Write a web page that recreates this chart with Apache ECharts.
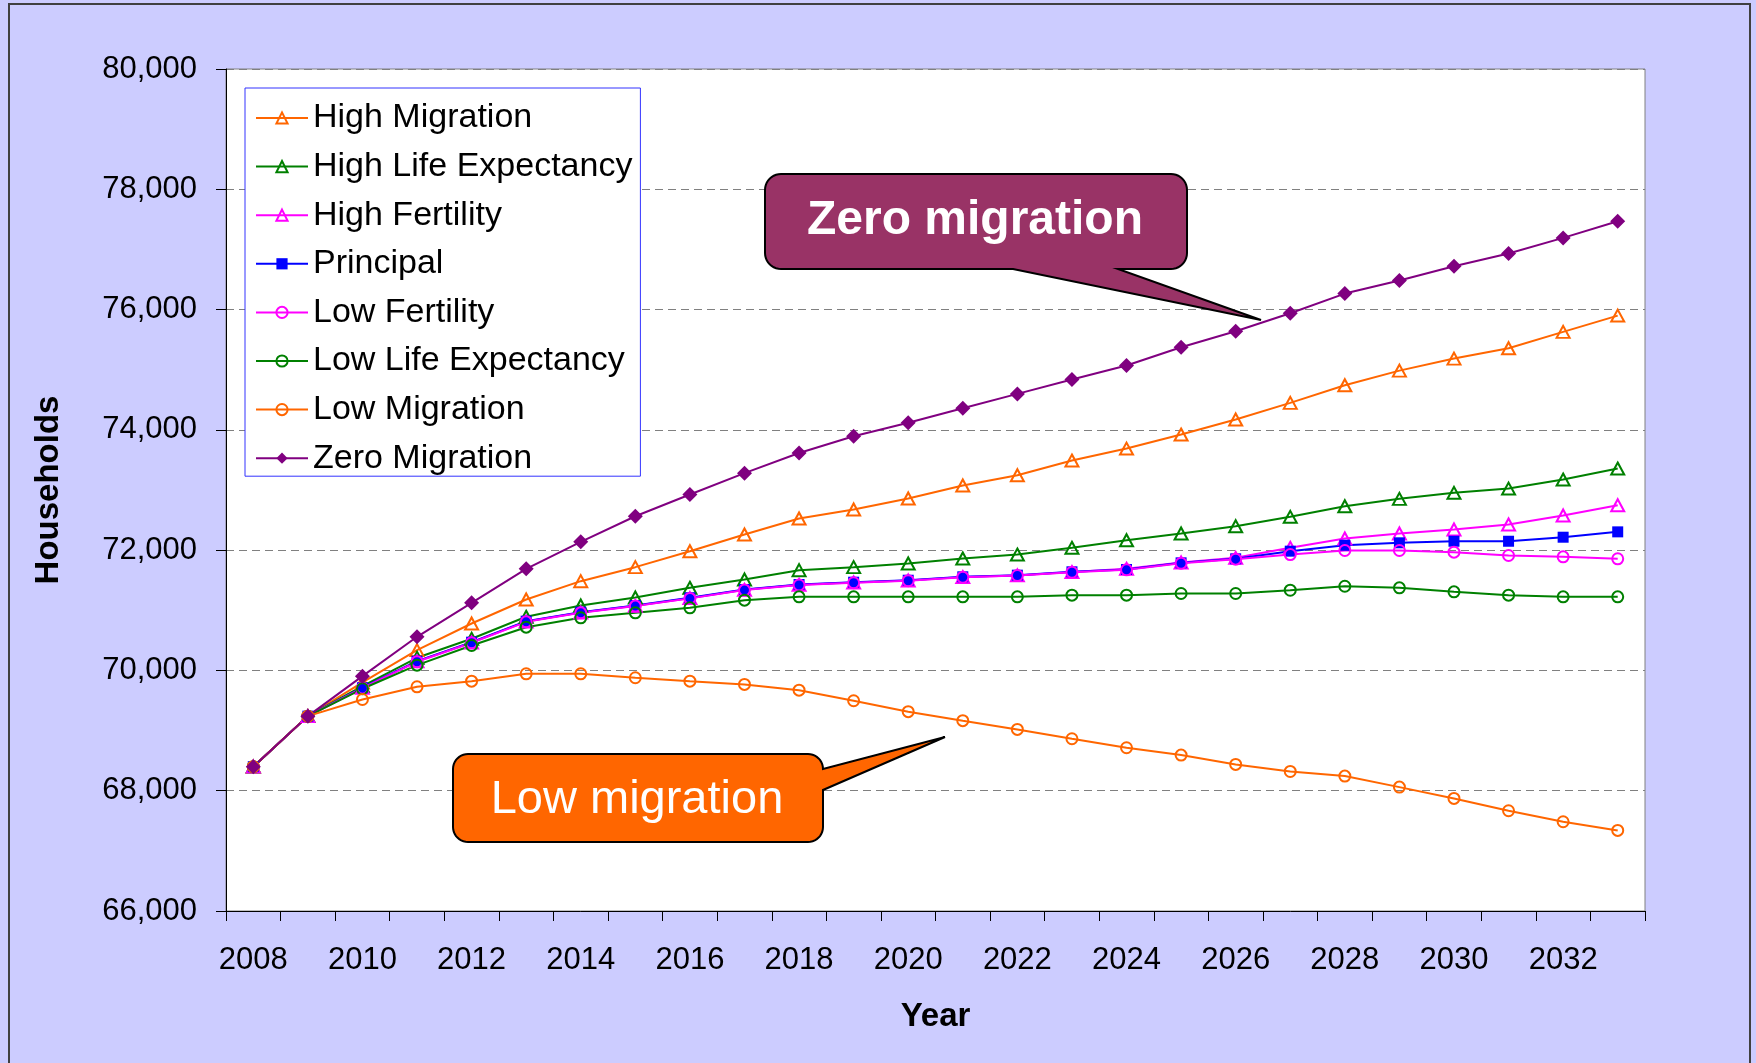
<!DOCTYPE html>
<html>
<head>
<meta charset="utf-8">
<script src="https://cdn.jsdelivr.net/npm/echarts@6/dist/echarts.min.js"></script>
<style>
html,body{margin:0;padding:0;background:#CCCCFF;}
#chart{width:1756px;height:1063px;}
</style>
</head>
<body>
<div id="chart"></div>
<script>
var years = ['2008','2009','2010','2011','2012','2013','2014','2015','2016','2017','2018','2019','2020',
  '2021','2022','2023','2024','2025','2026','2027','2028','2029','2030','2031','2032','2033'];

var highMigration = [68400, 69240, 69800, 70337, 70780, 71180, 71484, 71717, 71982, 72260, 72526, 72676, 72859,
  73075, 73246, 73490, 73689, 73922, 74172, 74449, 74742, 74985, 75185, 75357, 75629, 75900];
var highLifeExpectancy = [68400, 69240, 69740, 70210, 70526, 70892, 71080, 71213, 71374, 71512, 71667, 71717, 71778,
  71861, 71927, 72039, 72165, 72277, 72398, 72554, 72730, 72853, 72953, 73024, 73174, 73357];
var highFertility = [68400, 69240, 69710, 70150, 70465, 70812, 70962, 71074, 71202, 71340, 71424, 71462, 71496,
  71553, 71580, 71636, 71690, 71795, 71872, 72039, 72194, 72277, 72343, 72426, 72576, 72747];
var principal = [68400, 69240, 69712, 70154, 70470, 70819, 70969, 71080, 71208, 71346, 71429, 71467, 71500,
  71557, 71584, 71640, 71678, 71789, 71856, 71983, 72082, 72122, 72148, 72148, 72215, 72304];
var lowFertility = [68400, 69240, 69705, 70145, 70460, 70808, 70958, 71070, 71198, 71336, 71420, 71458, 71492,
  71550, 71578, 71632, 71672, 71782, 71850, 71927, 71994, 71994, 71966, 71911, 71889, 71856];
var lowLifeExpectancy = [68400, 69240, 69695, 70088, 70415, 70719, 70875, 70958, 71041, 71168, 71224, 71224, 71224,
  71224, 71224, 71251, 71251, 71279, 71279, 71334, 71400, 71373, 71307, 71251, 71224, 71224];
var lowMigration = [68400, 69240, 69517, 69728, 69822, 69944, 69944, 69878, 69822, 69767, 69672, 69496, 69314,
  69165, 69019, 68864, 68714, 68592, 68437, 68320, 68243, 68060, 67872, 67667, 67484, 67340];
var zeroMigration = [68400, 69240, 69905, 70559, 71124, 71690, 72138, 72564, 72926, 73280, 73615, 73894, 74117,
  74360, 74598, 74836, 75069, 75374, 75640, 75938, 76266, 76482, 76720, 76931, 77192, 77468];

var yTicks = [66000, 68000, 70000, 72000, 74000, 76000, 78000, 80000];

var FONT = "'Liberation Sans', Arial, Helvetica, sans-serif";

function mkSeries(name, data, color, symbol, size, hollow) {
  return {
    name: name,
    type: 'line',
    data: data,
    symbol: symbol,
    symbolSize: size,
    showSymbol: true,
    showAllSymbol: true,
    lineStyle: { color: color, width: 2 },
    itemStyle: hollow
      ? { color: 'rgba(255,255,255,0)', borderColor: color, borderWidth: 2 }
      : { color: color, borderColor: color, borderWidth: 0 },
    emphasis: { disabled: true }
  };
}

function calloutPoints(x0, y0, x1, y1, r, wedge) {
  var pts = [];
  function arc(cx, cy, a0, a1) {
    var n = 10;
    for (var i = 0; i <= n; i++) {
      var a = a0 + (a1 - a0) * i / n;
      pts.push([cx + r * Math.cos(a), cy + r * Math.sin(a)]);
    }
  }
  arc(x0 + r, y0 + r, Math.PI, 1.5 * Math.PI);
  arc(x1 - r, y0 + r, 1.5 * Math.PI, 2 * Math.PI);
  if (wedge.side === 'right') {
    pts.push([x1, wedge.a]); pts.push(wedge.tip); pts.push([x1, wedge.b]);
  }
  arc(x1 - r, y1 - r, 0, 0.5 * Math.PI);
  if (wedge.side === 'bottom') {
    pts.push([wedge.a, y1]); pts.push(wedge.tip); pts.push([wedge.b, y1]);
  }
  arc(x0 + r, y1 - r, 0.5 * Math.PI, Math.PI);
  return pts;
}

var chart = echarts.init(document.getElementById('chart'), null, { renderer: 'canvas' });

var option = {
  animation: false,
  backgroundColor: '#CCCCFF',
  textStyle: { fontFamily: FONT },
  grid: {
    left: 226, top: 69, right: 111, bottom: 152,
    show: true, backgroundColor: '#ffffff', borderColor: '#808080', borderWidth: 1,
    containLabel: false, outerBoundsMode: 'none'
  },
  legend: {
    orient: 'vertical',
    left: 245, top: 88,
    padding: [13, 8, 1, 10],
    itemWidth: 52, itemHeight: 14, itemGap: 14.6,
    backgroundColor: '#ffffff',
    borderColor: '#3333ff', borderWidth: 1,
    textStyle: { fontSize: 34, color: '#000', fontFamily: FONT, lineHeight: 34 },
    selectedMode: false,
    data: ['High Migration', 'High Life Expectancy', 'High Fertility', 'Principal',
      'Low Fertility', 'Low Life Expectancy', 'Low Migration', 'Zero Migration']
  },
  xAxis: {
    type: 'category',
    data: years,
    boundaryGap: true,
    name: 'Year',
    nameLocation: 'middle',
    nameGap: 89,
    nameTextStyle: { fontSize: 33, fontWeight: 'bold', color: '#000', fontFamily: FONT },
    axisLine: { lineStyle: { color: '#000', width: 1 } },
    axisTick: { show: true, interval: 0, length: 10, inside: false, alignWithLabel: false, lineStyle: { color: '#000' } },
    axisLabel: { interval: 1, fontSize: 31, color: '#000', margin: 34, fontFamily: FONT, hideOverlap: false },
    splitLine: { show: false }
  },
  yAxis: {
    type: 'value',
    min: yTicks[0], max: yTicks[yTicks.length - 1], interval: 2000,
    name: 'Households',
    nameLocation: 'middle',
    nameRotate: 90,
    nameGap: 161,
    nameTextStyle: { fontSize: 33, fontWeight: 'bold', color: '#000', fontFamily: FONT },
    axisLine: { show: true, lineStyle: { color: '#000', width: 1 } },
    axisTick: { show: true, length: 10, inside: false, lineStyle: { color: '#000' } },
    axisLabel: {
      fontSize: 31, color: '#000', margin: 29, fontFamily: FONT,
      formatter: function (v) { return v.toLocaleString('en-US'); }
    },
    splitLine: { show: true, lineStyle: { color: '#808080', width: 1, type: [8, 5] } }
  },
  series: [
    mkSeries('High Migration', highMigration, '#FF6600', 'triangle', [13, 12], true),
    mkSeries('High Life Expectancy', highLifeExpectancy, '#008000', 'triangle', [13, 12], true),
    mkSeries('High Fertility', highFertility, '#FF00FF', 'triangle', [13, 12], true),
    mkSeries('Principal', principal, '#0000FF', 'rect', 11, false),
    mkSeries('Low Fertility', lowFertility, '#FF00FF', 'circle', 11, true),
    mkSeries('Low Life Expectancy', lowLifeExpectancy, '#008000', 'circle', 11, true),
    mkSeries('Low Migration', lowMigration, '#FF6600', 'circle', 11, true),
    mkSeries('Zero Migration', zeroMigration, '#800080', 'diamond', 15, false)
  ],
  graphic: [
    {
      type: 'rect', z: 200, silent: true,
      shape: { x: 9, y: 4, width: 1741, height: 1080 },
      style: { fill: 'none', stroke: '#404040', lineWidth: 2 }
    },
    {
      type: 'polygon', z: 200, silent: true,
      shape: { points: calloutPoints(765, 174, 1187, 269, 16, { side: 'bottom', a: 1118, b: 1013, tip: [1261, 320] }) },
      style: { fill: '#993366', stroke: '#000', lineWidth: 2 }
    },
    {
      type: 'text', z: 201, silent: true,
      style: {
        text: 'Zero migration', x: 975, y: 221, fill: '#ffffff',
        font: 'bold 48px ' + FONT,
        align: 'center', verticalAlign: 'middle', textAlign: 'center', textVerticalAlign: 'middle'
      }
    },
    {
      type: 'polygon', z: 200, silent: true,
      shape: { points: calloutPoints(453, 754, 823, 842, 15, { side: 'right', a: 769, b: 790, tip: [945, 737] }) },
      style: { fill: '#FF6600', stroke: '#000', lineWidth: 2 }
    },
    {
      type: 'text', z: 201, silent: true,
      style: {
        text: 'Low migration', x: 637, y: 800, fill: '#ffffff',
        font: '47px ' + FONT,
        align: 'center', verticalAlign: 'middle', textAlign: 'center', textVerticalAlign: 'middle'
      }
    }
  ]
};

chart.setOption(option);
</script>
</body>
</html>
